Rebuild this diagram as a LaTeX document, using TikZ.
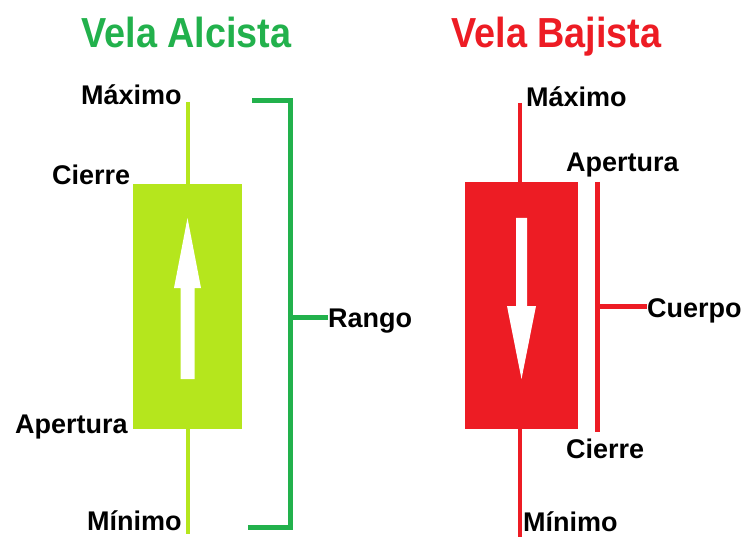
\documentclass[tikz,border=0pt]{standalone}
\usepackage{fontspec}
\setmainfont{Liberation Sans}
\definecolor{candlegreen}{HTML}{B5E61D}
\definecolor{rangegreen}{HTML}{22B14C}
\definecolor{candlered}{HTML}{ED1C24}
\begin{document}
\begin{tikzpicture}[x=1pt,y=-1pt,
  lbl/.style={font=\fontsize{27}{30}\selectfont\bfseries, inner sep=0, anchor=base west},
  ttl/.style={font=\fontsize{42}{48}\selectfont\bfseries, inner sep=0, anchor=base},
  body/.style={inner sep=0, draw=none},
  wick/.style={line width=4pt},
  brk/.style={line width=5pt},
  arrowfill/.style={fill=white, draw=none}]
\useasboundingbox (0,0) rectangle (746,537);
\fill[white] (0,0) rectangle (746,537);

% titles
\node[ttl, text=rangegreen] (tgreen) at (186.5,48) {\scalebox{0.9}[1]{Vela Alcista}};
\node[ttl, text=candlered] (tred) at (556.5,48) {\scalebox{0.9}[1]{Vela Bajista}};

% ---------- green candle ----------
\node[body, fill=candlegreen, minimum width=109pt, minimum height=245pt] (gbody) at (187.5,306.5) {};
\coordinate (gtop) at (187.5,102);
\coordinate (gbot) at (187.5,534);
\draw[wick, candlegreen] (gtop) -- (gbody.north);
\draw[wick, candlegreen] (gbody.south) -- (gbot);
\fill[arrowfill] (187.5,218) -- (201,288) -- (194.5,288) -- (194.5,379) -- (180.5,379) -- (180.5,288) -- (174,288) -- cycle;

\node[lbl] (gmax) at (81,105) {Máximo};
\node[lbl] (gcie) at (52,185) {Cierre};
\node[lbl] (gape) at (15,433) {Apertura};
\node[lbl, text depth=0pt] (gmin) at (87,530) {Mínimo};

% range bracket
\coordinate (rtop) at (252,101);
\coordinate (rtopc) at (290,101);
\coordinate (rbotc) at (290,527);
\coordinate (rbot) at (248,527);
\coordinate (rmid) at (290,317);
\node[lbl] (rango) at (328,327) {Rango};
\draw[brk, rangegreen] (rtop) -- (rtopc) -- (rbotc) -- (rbot);
\draw[brk, rangegreen] (rmid) -- (rango.west |- rmid);

% ---------- red candle ----------
\node[body, fill=candlered, minimum width=113pt, minimum height=247pt] (rbody) at (521.5,305.5) {};
\coordinate (redtop) at (520,103);
\coordinate (redbot) at (520,537);
\draw[wick, candlered] (redtop) -- (redtop |- rbody.north);
\draw[wick, candlered] (redbot |- rbody.south) -- (redbot);
\fill[arrowfill] (521.5,379) -- (536,306) -- (527,306) -- (527,218) -- (516,218) -- (516,306) -- (507,306) -- cycle;

\node[lbl] (rmax) at (526,107) {Máximo};
\node[lbl] (rape) at (566,172) {Apertura};
\node[lbl] (rcie) at (566,458) {Cierre};
\node[lbl, text depth=0pt] (rmin) at (523,531) {Mínimo};

% body bracket
\coordinate (btop) at (597,182);
\coordinate (bbot) at (597,432);
\coordinate (bmid) at (597,306);
\node[lbl] (cuerpo) at (647,317) {Cuerpo};
\draw[brk, candlered] (btop) -- (bbot);
\draw[brk, candlered] (bmid) -- (cuerpo.west |- bmid);
\end{tikzpicture}
\end{document}
